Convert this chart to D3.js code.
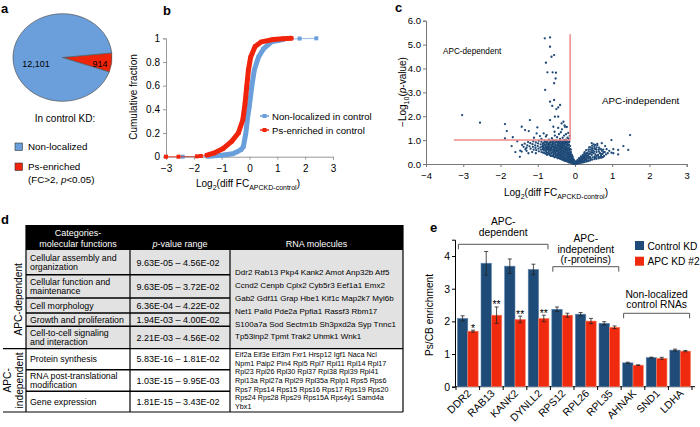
<!DOCTYPE html>
<html><head><meta charset="utf-8">
<script src="https://cdn.jsdelivr.net/npm/d3@7"></script>
<style>
body{margin:0;background:#fff}
svg{font-family:"Liberation Sans",Arial,Helvetica,sans-serif}
</style></head><body>
<svg id="fig" width="700" height="427"></svg>
<script>
// ================= DATA =================
// Panel a
const pieCategories = ["Ps-enriched", "Non-localized"];
const pieValues = [914, 12101];
const pieLabels = ["914", "12,101"];
const pieLegend = ["Non-localized", "Ps-enriched"];

// Panel b (cumulative fraction curves)
const cdfXTicks = [-3, -2, -1, 0, 1, 2, 3];
const cdfYTicks = [0, 0.2, 0.4, 0.6, 0.8, 1];
const nonLocX = [-2.4, -1.5, -1.0, -0.6, -0.46, -0.3, -0.22, -0.13, -0.08, -0.01, 0.08, 0.17, 0.32, 0.5, 0.79, 1.2, 1.8, 2.4];
const nonLocY = [0, 0.004, 0.012, 0.025, 0.04, 0.06, 0.085, 0.2, 0.31, 0.42, 0.59, 0.73, 0.84, 0.91, 0.97, 0.99, 0.998, 1];
const psX = [-3.0, -2.55, -1.89, -1.75, -1.53, -1.29, -0.94, -0.64, -0.4, -0.24, -0.16, -0.1, -0.04, 0.04, 0.2, 0.43, 0.85, 1.2, 1.5];
const psY = [0, 0, 0.003, 0.006, 0.014, 0.03, 0.07, 0.13, 0.2, 0.31, 0.45, 0.59, 0.73, 0.84, 0.93, 0.97, 0.99, 0.997, 1];
const cdfSeries = ["Non-localized in control", "Ps-enriched in control"];

// Panel c (volcano points)
const volcanoXTicks = [-4, -3, -2, -1, 0, 1, 2, 3];
const volcanoYTicks = [0, 1, 2, 3, 4, 5, 6];
const volcanoPoints = [
[-3.03,2.05],[-2.55,1.73],[-1.88,1.67],[-1.83,1.38],[-1.88,1.07],[-1.67,1.12],[-1.43,1.56],[-1.21,1.84],[-1.34,1.42],[-1.24,1.38],
[-1.43,0.52],[-1.47,0.56],[-1.01,1.53],[-1.03,1.28],[-0.94,1.17],[-0.84,1.28],[-0.81,5.26],[-0.67,5.30],[-0.67,4.91],[-0.56,4.56],
[-0.63,4.49],[-0.78,4.24],[-0.74,3.84],[-0.6,3.84],[-0.51,3.82],[-0.52,3.58],[-0.56,3.38],[-0.8,3.10],[-0.67,2.61],[-0.56,2.68],
[-0.61,2.43],[-0.45,2.37],[-0.4,2.47],[-0.5,2.3],[-0.67,1.84],[-0.54,1.98],[-0.45,1.98],[-0.76,1.21],[-0.58,1.56],[-0.45,1.51],
[-0.36,1.70],[-0.31,1.77],[-0.27,1.56],[-0.38,1.33],[-0.24,1.25],[-0.29,1.19],[-0.43,1.25],[-0.54,1.19],
[-0.16,1.05],[-0.2,1.1],[-0.14,1.18],[-0.25,1.02],[-0.18,1.3],[-0.33,1.1],[-0.4,1.05],[-0.48,1.12],[-0.62,1.08],[-0.7,1.02],
[-0.9,1.05],[-1.1,1.1],[-0.78,1.15],[-0.55,1.35],[-0.35,1.45],[-0.28,1.62],[-0.22,1.55],
[-1.6,0.5],[-1.48,0.3],[-1.25,0.45],[-1.55,0.95],[-1.7,0.75],[-1.3,0.55],[-1.15,0.5],[-1.05,0.45],
[-0.02,0.02],[-0.04,0.05],[-0.03,0.1],[-0.06,0.08],[-0.08,0.04],[-0.05,0.15],[-0.1,0.12],[-0.09,0.2],[-0.12,0.07],[-0.07,0.25],
[-0.11,0.3],[-0.14,0.18],[-0.15,0.1],[-0.13,0.35],[-0.16,0.26],[-0.18,0.14],[-0.1,0.4],[-0.17,0.42],[-0.2,0.32],[-0.19,0.2],
[-0.22,0.12],[-0.14,0.5],[-0.2,0.48],[-0.23,0.38],[-0.25,0.26],[-0.24,0.18],[-0.16,0.58],[-0.21,0.62],[-0.26,0.52],[-0.28,0.42],
[-0.3,0.3],[-0.29,0.2],[-0.18,0.7],[-0.23,0.75],[-0.27,0.66],[-0.31,0.57],[-0.33,0.46],[-0.35,0.36],[-0.34,0.24],[-0.2,0.85],
[-0.25,0.9],[-0.29,0.8],[-0.33,0.72],[-0.36,0.62],[-0.38,0.5],[-0.4,0.4],[-0.39,0.28],[-0.15,0.95],[-0.22,0.98],[-0.3,0.95],
[-0.35,0.86],[-0.39,0.77],[-0.42,0.67],[-0.44,0.55],[-0.46,0.44],[-0.45,0.32],[-0.27,1.0],[-0.38,0.96],[-0.43,0.88],[-0.46,0.8],
[-0.49,0.7],[-0.5,0.6],[-0.52,0.48],[-0.51,0.36],[-0.44,0.97],[-0.5,0.9],[-0.53,0.82],[-0.56,0.72],[-0.57,0.62],[-0.58,0.52],
[-0.57,0.4],[-0.55,0.28],[-0.52,0.99],[-0.58,0.93],[-0.6,0.85],[-0.63,0.76],[-0.64,0.66],[-0.65,0.55],[-0.63,0.45],[-0.61,0.33],
[-0.6,1.0],[-0.66,0.96],[-0.68,0.88],[-0.7,0.8],[-0.72,0.7],[-0.71,0.6],[-0.7,0.5],[-0.68,0.38],[-0.74,0.94],[-0.76,0.84],
[-0.78,0.74],[-0.79,0.64],[-0.77,0.54],[-0.76,0.43],[-0.82,0.97],[-0.84,0.88],[-0.86,0.78],[-0.85,0.68],[-0.84,0.58],[-0.83,0.47],
[-0.9,0.93],[-0.92,0.82],[-0.93,0.7],[-0.91,0.6],[-0.9,0.5],[-0.97,0.97],[-0.99,0.86],[-1.0,0.75],[-0.98,0.64],[-0.97,0.53],
[-1.05,0.9],[-1.07,0.78],[-1.06,0.68],[-1.04,0.58],[-1.12,0.95],[-1.14,0.83],[-1.13,0.72],[-1.11,0.6],[-1.2,0.87],[-1.22,0.74],
[-1.19,0.64],[-1.26,0.92],[-1.28,0.78],[-1.3,0.68],[-1.35,0.85],[-1.38,0.72],[-1.33,0.62],[-1.42,0.8],
[-0.01,0.0],[0,0.01],[-0.03,0.03],[-0.06,0.02],[-0.05,0.06],[-0.08,0.1],[-0.11,0.16],[-0.13,0.22],[-0.12,0.28],[-0.15,0.33],
[-0.17,0.37],[-0.19,0.45],[-0.21,0.55],[-0.24,0.6],[-0.26,0.7],[-0.28,0.87],[-0.32,0.9],[-0.34,0.8],[-0.36,0.68],[-0.37,0.56],
[-0.41,0.6],[-0.43,0.74],[-0.47,0.64],[-0.48,0.52],[-0.54,0.58],[-0.55,0.66],[-0.59,0.8],[-0.62,0.7],[-0.66,0.62],[-0.69,0.73],
[-0.73,0.8],[-0.75,0.66],[-0.8,0.7],[-0.81,0.82],[-0.88,0.72],[-0.12,0.45],[-0.09,0.33],[-0.07,0.18],[-0.04,0.12],
[0.02,0.01],[0.04,0.04],[0.06,0.02],[0.05,0.08],[0.08,0.06],[0.1,0.1],[0.09,0.14],[0.12,0.05],[0.13,0.17],[0.15,0.12],
[0.14,0.22],[0.17,0.08],[0.18,0.2],[0.2,0.15],[0.19,0.28],[0.22,0.24],[0.24,0.1],[0.23,0.34],[0.26,0.3],[0.27,0.18],
[0.28,0.4],[0.3,0.26],[0.31,0.36],[0.32,0.14],[0.33,0.46],[0.35,0.32],[0.36,0.22],[0.37,0.52],[0.38,0.42],[0.4,0.3],
[0.41,0.6],[0.42,0.2],[0.43,0.5],[0.45,0.38],[0.46,0.66],[0.47,0.28],[0.48,0.56],[0.5,0.45],[0.52,0.72],[0.53,0.32],
[0.55,0.62],[0.56,0.25],[0.58,0.5],[0.6,0.78],[0.62,0.38],[0.63,0.3],[0.65,0.68],[0.67,0.45],[0.7,0.35],[0.72,0.55],
[0.74,0.42],[0.76,0.6],[0.78,0.33],[0.8,0.5],[0.83,0.4],[0.6,0.84],[0.5,0.82],[0.38,0.7],[0.3,0.58],[0.25,0.45],
[0.68,0.3],[0.73,0.28],[0.64,0.24],[0.55,0.4],[0.88,0.45],[0.92,0.55],
[1.48,1.21],[0.98,1.0],[1.3,0.75],[1.16,0.59],[0.98,0.47],[1.03,0.62],[0.85,0.62],[0.81,0.75],[0.72,0.87],[0.45,0.87],
[0.54,0.8],[1.16,0.4],[1.43,0.59],[1.03,0.45]
];
// dense core of the volcano cloud, as columns: [x, list of -log10 p values]
const volcanoDense = [
[-0.03,[0.05,0.13,0.18]],[-0.06,[0.03,0.11,0.22,0.3]],[-0.08,[0.07,0.15,0.28,0.37]],
[-0.11,[0.05,0.2,0.36,0.5,0.6]],[-0.13,[0.1,0.27,0.42,0.62,0.75]],[-0.16,[0.06,0.16,0.3,0.46,0.66,0.8,0.9]],
[-0.19,[0.09,0.26,0.38,0.54,0.64,0.78,0.93]],[-0.22,[0.16,0.28,0.44,0.58,0.68,0.82,0.92]],
[-0.25,[0.12,0.22,0.35,0.48,0.56,0.73,0.84,0.96]],[-0.28,[0.14,0.27,0.35,0.5,0.6,0.72,0.92]],
[-0.31,[0.16,0.24,0.4,0.5,0.65,0.76,0.84,0.98]],[-0.34,[0.18,0.32,0.4,0.54,0.66,0.9]],
[-0.37,[0.2,0.3,0.44,0.6,0.74,0.82,0.92]],[-0.4,[0.22,0.34,0.5,0.66,0.72,0.86,0.98]],
[-0.43,[0.26,0.38,0.46,0.6,0.8,0.93]],[-0.46,[0.24,0.36,0.52,0.58,0.72,0.88]],
[-0.49,[0.28,0.4,0.55,0.66,0.78,0.95]],[-0.53,[0.3,0.42,0.52,0.68,0.76,0.9]],
[-0.57,[0.33,0.46,0.56,0.7,0.86,0.97]],[-0.61,[0.36,0.5,0.6,0.74,0.9]],
[-0.65,[0.34,0.44,0.58,0.7,0.82,0.92]],[-0.7,[0.42,0.55,0.65,0.74,0.86]],
[-0.75,[0.38,0.48,0.6,0.72,0.9]],[-0.8,[0.44,0.56,0.64,0.77,0.92]],[-0.86,[0.48,0.62,0.74,0.85]],
[0.03,[0.02,0.07,0.12]],[0.07,[0.04,0.1,0.17]],[0.11,[0.03,0.08,0.14,0.24]],[0.16,[0.05,0.15,0.25,0.32]],
[0.21,[0.06,0.12,0.2,0.3,0.38]],[0.26,[0.08,0.14,0.24,0.36,0.5]],[0.31,[0.1,0.2,0.3,0.44]],
[0.36,[0.12,0.28,0.38,0.6]],[0.41,[0.15,0.24,0.44,0.7]],[0.46,[0.18,0.48,0.58,0.76]],
[0.52,[0.2,0.28,0.52,0.64]],[0.58,[0.22,0.34,0.6,0.7]],[0.64,[0.28,0.52,0.6]],[0.7,[0.26,0.42,0.62]],[0.76,[0.3,0.5]]
];
const thresholdY = [1, 1];          // horizontal cut (-log10 p = 1)
const thresholdYExtentX = [-3.25, -0.13];
const thresholdX = [-0.13, -0.13];  // vertical cut
const thresholdXExtentY = [1, 5.43];

// Panel d (table)
const tableHeader = [["Categories-", "molecular functions"], ["p-value range"], ["RNA molecules"]];
const tableGroups = [["APC-dependent"], ["APC-", "independent"]];
const tableCategories = [
  ["Cellular assembly and", "organization"],
  ["Cellular function and", "maintenance"],
  ["Cell morphology"],
  ["Growth and proliferation"],
  ["Cell-to-cell signaling", "and interaction"],
  ["Protein synthesis"],
  ["RNA post-translational", "modification"],
  ["Gene expression"]
];
const tablePRanges = [
  "9.63E-05 \u2013 4.56E-02", "9.63E-05 \u2013 3.72E-02", "6.36E-04 \u2013 4.22E-02", "1.94E-03 \u2013 4.00E-02",
  "2.21E-03 \u2013 4.56E-02", "5.83E-16 \u2013 1.81E-02", "1.03E-15 \u2013 9.95E-03", "1.81E-15 \u2013 3.43E-02"
];
const rnaDependent = [
  "Ddr2 Rab13 Pkp4 Kank2 Amot Anp32b Atf5",
  "Ccnd2 Cenpb Cplx2 Cyb5r3 Eef1a1 Emx2",
  "Gab2 Gdf11 Grap Hbe1 Kif1c Map2k7 Myl6b",
  "Net1 Palld Pde2a Ppfia1 Rassf3 Rbm17",
  "S100a7a Sod Sectm1b Sh3pxd2a Syp Tnnc1",
  "Tp53inp2 Tpmt Trak2 Uhmk1 Wnk1"
];
const rnaIndependent = [
  "Eif2a Eif3e Eif3m Fxr1 Hrsp12 Igf1 Naca Ncl",
  "Npm1 Paip2 Pin4 Rpl5 Rpl7 Rpl11 Rpl14 Rpl17",
  "Rpl23 Rpl26 Rpl30 Rpl37 Rpl38 Rpl39 Rpl41",
  "Rpl13a Rpl27a Rpl29 Rpl35a Rplp1 Rps5 Rps6",
  "Rps7 Rps14 Rps15 Rps16 Rps17 Rps19 Rps20",
  "Rps24 Rps28 Rps29 Rps15A Rps4y1 Samd4a",
  "Ybx1"
];

// Panel e
const genes = ["DDR2", "RAB13", "KANK2", "DYNLL2", "RPS12", "RPL26", "RPL35", "AHNAK", "SND1", "LDHA"];
const controlKD = [2.09, 3.78, 3.69, 3.59, 2.37, 2.22, 1.94, 0.73, 0.89, 1.12];
const controlErr = [0.08, 0.36, 0.22, 0.16, 0.07, 0.05, 0.05, 0.02, 0.015, 0.03];
const apcKD = [1.70, 2.19, 2.06, 2.09, 2.19, 2.01, 1.82, 0.66, 0.87, 1.09];
const apcErr = [0.03, 0.25, 0.10, 0.10, 0.06, 0.08, 0.04, 0.01, 0.03, 0.02];
const significance = ["*", "**", "**", "**", "", "", "", "", "", ""];
const eSeries = ["Control KD", "APC KD #2"];
const eYTicks = [0, 1, 2, 3, 4];
const eGroups = [
  {lines: ["APC-", "dependent"], from: "DDR2", to: "DYNLL2"},
  {lines: ["APC-", "independent", "(r-proteins)"], from: "RPS12", to: "RPL35"},
  {lines: ["Non-localized", "control RNAs"], from: "AHNAK", to: "LDHA"}
];

// ================= DRAW =================
const BLUE_L = "#6a9fdc", RED = "#f0240b", NAVY = "#1f4b79", RED_E = "#ef2a0e";
const svg = d3.select("#fig");

function label(t, x, y) {
  svg.append("text").attr("x", x).attr("y", y).attr("font-size", 13).attr("font-weight", "bold").text(t);
}

// ---------- Panel a ----------
label("a", 1, 13);
{
  const colors = {"Ps-enriched": RED, "Non-localized": BLUE_L};
  const data = pieCategories.map((c, i) => ({c, v: pieValues[i], l: pieLabels[i]}));
  const pie = d3.pie().sort(null).value(d => d.v)
    .startAngle(84 * Math.PI / 180).endAngle(444 * Math.PI / 180);
  const R = 49.5;
  const arc = d3.arc().innerRadius(0).outerRadius(R);
  const g = svg.append("g").attr("transform", "translate(62.5,57.5) scale(1,0.885)");
  g.selectAll("path").data(pie(data)).join("path")
    .attr("d", arc).attr("fill", d => colors[d.data.c])
    .attr("stroke", "#555").attr("stroke-width", 0.7).attr("vector-effect", "non-scaling-stroke");
  svg.append("text").attr("x", 100).attr("y", 67).attr("text-anchor", "middle").attr("font-size", 9).text(pieLabels[0]);
  svg.append("text").attr("x", 36).attr("y", 66.5).attr("text-anchor", "middle").attr("font-size", 9).text(pieLabels[1]);
  svg.append("text").attr("x", 65).attr("y", 121.5).attr("text-anchor", "middle").attr("font-size", 10).text("In control KD:");
  const lg = [[pieLegend[0], BLUE_L, 143, 150], [pieLegend[1], RED, 163, 170]];
  lg.forEach(([t, c, ry, ty]) => {
    svg.append("rect").attr("x", 15).attr("y", ry).attr("width", 7.5).attr("height", 7.5)
      .attr("fill", c).attr("stroke", "#333").attr("stroke-width", 0.6);
    svg.append("text").attr("x", 28).attr("y", ty).attr("font-size", 9.8).text(t);
  });
  const t2 = svg.append("text").attr("x", 28).attr("y", 183).attr("font-size", 9.8);
  t2.append("tspan").text("(FC>2, ");
  t2.append("tspan").attr("font-style", "italic").text("p");
  t2.append("tspan").text("<0.05)");
}

// helper for Log2(diff FC_APCKD-control)
function log2Title(x, y, fs) {
  const t = svg.append("text").attr("x", x).attr("y", y).attr("text-anchor", "middle").attr("font-size", fs);
  t.append("tspan").text("Log");
  t.append("tspan").attr("font-size", fs * 0.7).attr("dy", 2.5).text("2");
  t.append("tspan").attr("dy", -2.5).text("(diff FC");
  t.append("tspan").attr("font-size", fs * 0.7).attr("dy", 2.5).text("APCKD-control");
  t.append("tspan").attr("dy", -2.5).text(")");
}

// ---------- Panel b ----------
label("b", 163, 15);
{
  const x = d3.scaleLinear().domain([-3, 3]).range([166, 333]);
  const y = d3.scaleLinear().domain([0, 1]).range([156.7, 38.3]);
  const ax = svg.append("g").attr("transform", "translate(0,156.7)")
    .call(d3.axisBottom(x).tickValues(cdfXTicks).tickSize(3).tickFormat(d3.format("d")));
  const ay = svg.append("g").attr("transform", "translate(166,0)")
    .call(d3.axisLeft(y).tickValues(cdfYTicks).tickSize(3).tickFormat(d => d === 0 || d === 1 ? d : d3.format(".1f")(d)));
  [ax, ay].forEach(a => {
    a.select(".domain").attr("stroke", "#999");
    a.selectAll(".tick line").attr("stroke", "#999");
    a.selectAll("text").attr("font-size", 10).attr("fill", "#000").attr("font-family", null);
  });
  ax.selectAll("text").attr("dy", "0.95em").text(d => d < 0 ? "\u2212" + Math.abs(d) : d);
  ay.selectAll("text").attr("x", -6);
  const line = d3.line().x(d => x(d[0])).y(d => y(d[1]));
  const series = [
    {x: nonLocX, y: nonLocY, c: BLUE_L},
    {x: psX, y: psY, c: RED}
  ];
  series.forEach(s => {
    const pts = s.x.map((v, i) => [v, s.y[i]]);
    svg.append("path").attr("d", line(pts)).attr("fill", "none").attr("stroke", s.c).attr("stroke-width", 1.2).attr("opacity", 0.6);
    svg.append("path").attr("d", line(pts.filter(p => p[0] > -1.6 && p[0] < 1.6)))
      .attr("fill", "none").attr("stroke", s.c).attr("stroke-width", 5)
      .attr("stroke-linejoin", "round").attr("stroke-linecap", "round");
    svg.selectAll(null).data(pts).join("rect")
      .attr("x", d => x(d[0]) - 2).attr("y", d => y(d[1]) - 2).attr("width", 4).attr("height", 4).attr("fill", s.c);
  });
  // legend
  [[cdfSeries[0], BLUE_L, 116], [cdfSeries[1], RED, 130]].forEach(([t, c, yy]) => {
    svg.append("line").attr("x1", 260).attr("x2", 269).attr("y1", yy).attr("y2", yy).attr("stroke", c).attr("stroke-width", 1.5);
    svg.append("rect").attr("x", 262.5).attr("y", yy - 2).attr("width", 4).attr("height", 4).attr("fill", c);
    svg.append("text").attr("x", 272).attr("y", yy + 3.5).attr("font-size", 9.6).text(t);
  });
  log2Title(248, 187, 10);
  svg.append("text").attr("transform", "translate(137,97) rotate(-90)").attr("text-anchor", "middle")
    .attr("font-size", 10).text("Cumulative fraction");
}

// ---------- Panel c ----------
label("c", 395, 12);
{
  const x = d3.scaleLinear().domain([-4, 3]).range([426, 686.7]);
  const y = d3.scaleLinear().domain([0, 6]).range([164, 20.7]);
  const ax = svg.append("g").attr("transform", "translate(0,164)")
    .call(d3.axisBottom(x).tickValues(volcanoXTicks).tickSize(3));
  const ay = svg.append("g").attr("transform", "translate(426,0)")
    .call(d3.axisLeft(y).tickValues(volcanoYTicks).tickSize(3));
  [ax, ay].forEach(a => {
    a.select(".domain").attr("stroke", "#777");
    a.selectAll(".tick line").attr("stroke", "#777");
    a.selectAll("text").attr("font-size", 9.5).attr("fill", "#000").attr("font-family", null);
  });
  ax.selectAll("text").attr("dy", "0.95em").text(d => d < 0 ? "\u2212" + Math.abs(d) : d);
  ay.selectAll("text").attr("x", -5);
  const allPts = volcanoPoints.concat(volcanoDense.flatMap(([vx, ys]) => ys.map(vy => [vx, vy])));
  svg.append("g").selectAll("circle").data(allPts).join("circle")
    .attr("cx", d => x(d[0])).attr("cy", d => y(d[1])).attr("r", 1.15).attr("fill", "#1f4a78");
  svg.append("line").attr("x1", x(thresholdYExtentX[0])).attr("x2", x(thresholdYExtentX[1]))
    .attr("y1", y(thresholdY[0])).attr("y2", y(thresholdY[1])).attr("stroke", "#f08a8a").attr("stroke-width", 1.5);
  svg.append("line").attr("x1", x(thresholdX[0])).attr("x2", x(thresholdX[1]))
    .attr("y1", y(thresholdXExtentY[0])).attr("y2", y(thresholdXExtentY[1])).attr("stroke", "#f08a8a").attr("stroke-width", 1.5);
  svg.append("text").attr("x", 443).attr("y", 53.5).attr("font-size", 8.2).text("APC-dependent");
  svg.append("text").attr("x", 602).attr("y", 103.5).attr("font-size", 9.8).text("APC-independent");
  log2Title(556, 196, 10);
  const t = svg.append("text").attr("transform", "translate(406,92) rotate(-90)").attr("text-anchor", "middle").attr("font-size", 10);
  t.append("tspan").text("\u2212Log");
  t.append("tspan").attr("font-size", 7).attr("dy", 2.5).text("10");
  t.append("tspan").attr("dy", -2.5).text("(");
  t.append("tspan").attr("font-style", "italic").text("p");
  t.append("tspan").text("-value)");
}

// ---------- Panel d ----------
label("d", 1, 224);
{
  const cols = [26, 130, 230, 403];
  const rows = [250, 274.7, 298, 313, 326.2, 348.7, 369.7, 391.2, 412];
  const g = svg.append("g");
  g.append("rect").attr("x", cols[0]).attr("y", 225).attr("width", cols[3] - cols[0]).attr("height", 25).attr("fill", "#000");
  g.append("rect").attr("x", cols[0]).attr("y", rows[0]).attr("width", cols[3] - cols[0]).attr("height", rows[5] - rows[0]).attr("fill", "#e2e2e2");
  const hx = [(cols[0] + cols[1]) / 2, (cols[1] + cols[2]) / 2, (cols[2] + cols[3]) / 2];
  g.append("text").attr("x", hx[0]).attr("y", 236).attr("text-anchor", "middle").attr("fill", "#fff").attr("font-size", 9).text(tableHeader[0][0]);
  g.append("text").attr("x", hx[0]).attr("y", 246.5).attr("text-anchor", "middle").attr("fill", "#fff").attr("font-size", 9).text(tableHeader[0][1]);
  const ph = g.append("text").attr("x", hx[1]).attr("y", 246.5).attr("text-anchor", "middle").attr("fill", "#fff").attr("font-size", 9);
  ph.append("tspan").attr("font-style", "italic").text("p");
  ph.append("tspan").text(tableHeader[1][0].slice(1));
  g.append("text").attr("x", hx[2]).attr("y", 246.5).attr("text-anchor", "middle").attr("fill", "#fff").attr("font-size", 9).text(tableHeader[2][0]);
  rows.slice(1).forEach((r, i) => {
    const full = (i === 4 || i === 7);
    g.append("line").attr("x1", full ? 3 : cols[0]).attr("x2", full ? cols[3] : cols[2])
      .attr("y1", r).attr("y2", r).attr("stroke", "#000").attr("stroke-width", full ? 1.2 : 1.4);
  });
  cols.forEach(c => g.append("line").attr("x1", c).attr("x2", c).attr("y1", 225).attr("y2", rows[8]).attr("stroke", "#000").attr("stroke-width", 1.2));
  tableCategories.forEach((lines, i) => {
    const mid = (rows[i] + rows[i + 1]) / 2;
    const lh = 9.6;
    lines.forEach((l, j) => {
      g.append("text").attr("x", 30).attr("y", mid + 3.2 + (j - (lines.length - 1) / 2) * lh).attr("font-size", 8.8).text(l);
    });
    g.append("text").attr("x", 178).attr("y", mid + 3.2).attr("text-anchor", "middle").attr("font-size", 9).text(tablePRanges[i]);
  });
  rnaDependent.forEach((l, i) => {
    g.append("text").attr("x", 235).attr("y", 275.3 + i * 12.8).attr("font-size", 8).text(l);
  });
  rnaIndependent.forEach((l, i) => {
    g.append("text").attr("x", 235).attr("y", 356.8 + i * 8.7).attr("font-size", 7.2).text(l);
  });
  g.append("text").attr("transform", `translate(22,${(rows[0] + rows[5]) / 2}) rotate(-90)`).attr("text-anchor", "middle").attr("font-size", 10.2).text(tableGroups[0][0]);
  g.append("text").attr("transform", `translate(11,${(rows[5] + rows[8]) / 2}) rotate(-90)`).attr("text-anchor", "middle").attr("font-size", 10.2).text(tableGroups[1][0]);
  g.append("text").attr("transform", `translate(22.5,${(rows[5] + rows[8]) / 2}) rotate(-90)`).attr("text-anchor", "middle").attr("font-size", 10.2).text(tableGroups[1][1]);
}

// ---------- Panel e ----------
label("e", 430, 232);
{
  const x0 = d3.scaleBand().domain(genes).range([456, 692]).paddingInner(0.12).paddingOuter(0.06);
  const x1 = d3.scaleBand().domain(eSeries).range([0, x0.bandwidth()]);
  const y = d3.scaleLinear().domain([0, 4.5]).range([386.7, 239.7]);
  const ay = svg.append("g").attr("transform", "translate(455,0)")
    .call(d3.axisLeft(y).tickValues(eYTicks).tickSize(3).tickFormat(d3.format("d")));
  ay.select(".domain").attr("stroke", "#000");
  ay.selectAll("text").attr("font-size", 10.5).attr("fill", "#000").attr("font-family", null).attr("x", -5);
  svg.append("line").attr("x1", 455).attr("x2", 695).attr("y1", 386.7).attr("y2", 386.7).attr("stroke", "#000");
  const bounds = genes.map(gn => x0(gn) - x0.step() * x0.paddingInner() / 2).concat([692]);
  svg.selectAll(null).data(bounds).join("line").attr("x1", d => d).attr("x2", d => d)
    .attr("y1", 386.7).attr("y2", 390).attr("stroke", "#000");
  const vals = [controlKD, apcKD], errs = [controlErr, apcErr], cols = [NAVY, RED_E], strokes = ["#5f86b0", "#f78a70"];
  genes.forEach((gn, i) => {
    eSeries.forEach((s, k) => {
      const v = vals[k][i], e = errs[k][i];
      const bx = x0(gn) + x1(s), bw = x1.bandwidth();
      svg.append("rect").attr("x", bx).attr("y", y(v)).attr("width", bw).attr("height", y(0) - y(v))
        .attr("fill", cols[k]).attr("stroke", strokes[k]).attr("stroke-width", 0.6);
      const cx = bx + bw / 2;
      svg.append("line").attr("x1", cx).attr("x2", cx).attr("y1", y(v + e)).attr("y2", y(v - e)).attr("stroke", "#222").attr("stroke-width", 0.8);
      [v + e, v - e].forEach(yy => svg.append("line").attr("x1", cx - 2).attr("x2", cx + 2).attr("y1", y(yy)).attr("y2", y(yy)).attr("stroke", "#222").attr("stroke-width", 0.8));
    });
    if (significance[i]) {
      const cx = x0(gn) + x1(eSeries[1]) + x1.bandwidth() / 2;
      svg.append("text").attr("x", cx).attr("y", y(apcKD[i] + apcErr[i]) + 1.5).attr("text-anchor", "middle")
        .attr("font-size", 10.5).text(significance[i]);
    }
    svg.append("text").attr("transform", `translate(${x0(gn) + x0.bandwidth() / 2 + 4},394) rotate(-45)`)
      .attr("text-anchor", "end").attr("font-size", 10.5).text(gn);
  });
  const bracketY = [244.3, 266.7, 313.3];
  const textY = [[225, 235.5], [242, 252.5, 263], [297.5, 308]];
  eGroups.forEach((gr, i) => {
    const xa = x0(gr.from) + 1, xb = x0(gr.to) + x0.bandwidth() - 1, by = bracketY[i];
    svg.append("path").attr("d", `M${xa},${by + 5}V${by}H${xb}V${by + 5}`).attr("fill", "none").attr("stroke", "#555").attr("stroke-width", 1);
    gr.lines.forEach((l, j) => svg.append("text").attr("x", (xa + xb) / 2).attr("y", textY[i][j]).attr("text-anchor", "middle").attr("font-size", 10.3).text(l));
  });
  [[eSeries[0], NAVY, 241, 249.5], [eSeries[1], RED_E, 256.7, 265]].forEach(([t, c, ry, ty]) => {
    svg.append("rect").attr("x", 635).attr("y", ry).attr("width", 9).attr("height", 9).attr("fill", c);
    svg.append("text").attr("x", 647.5).attr("y", ty).attr("font-size", 10.2).text(t);
  });
  svg.append("text").attr("transform", "translate(433,315) rotate(-90)").attr("text-anchor", "middle").attr("font-size", 10.2).text("Ps/CB enrichment");
}
</script>
</body></html>
